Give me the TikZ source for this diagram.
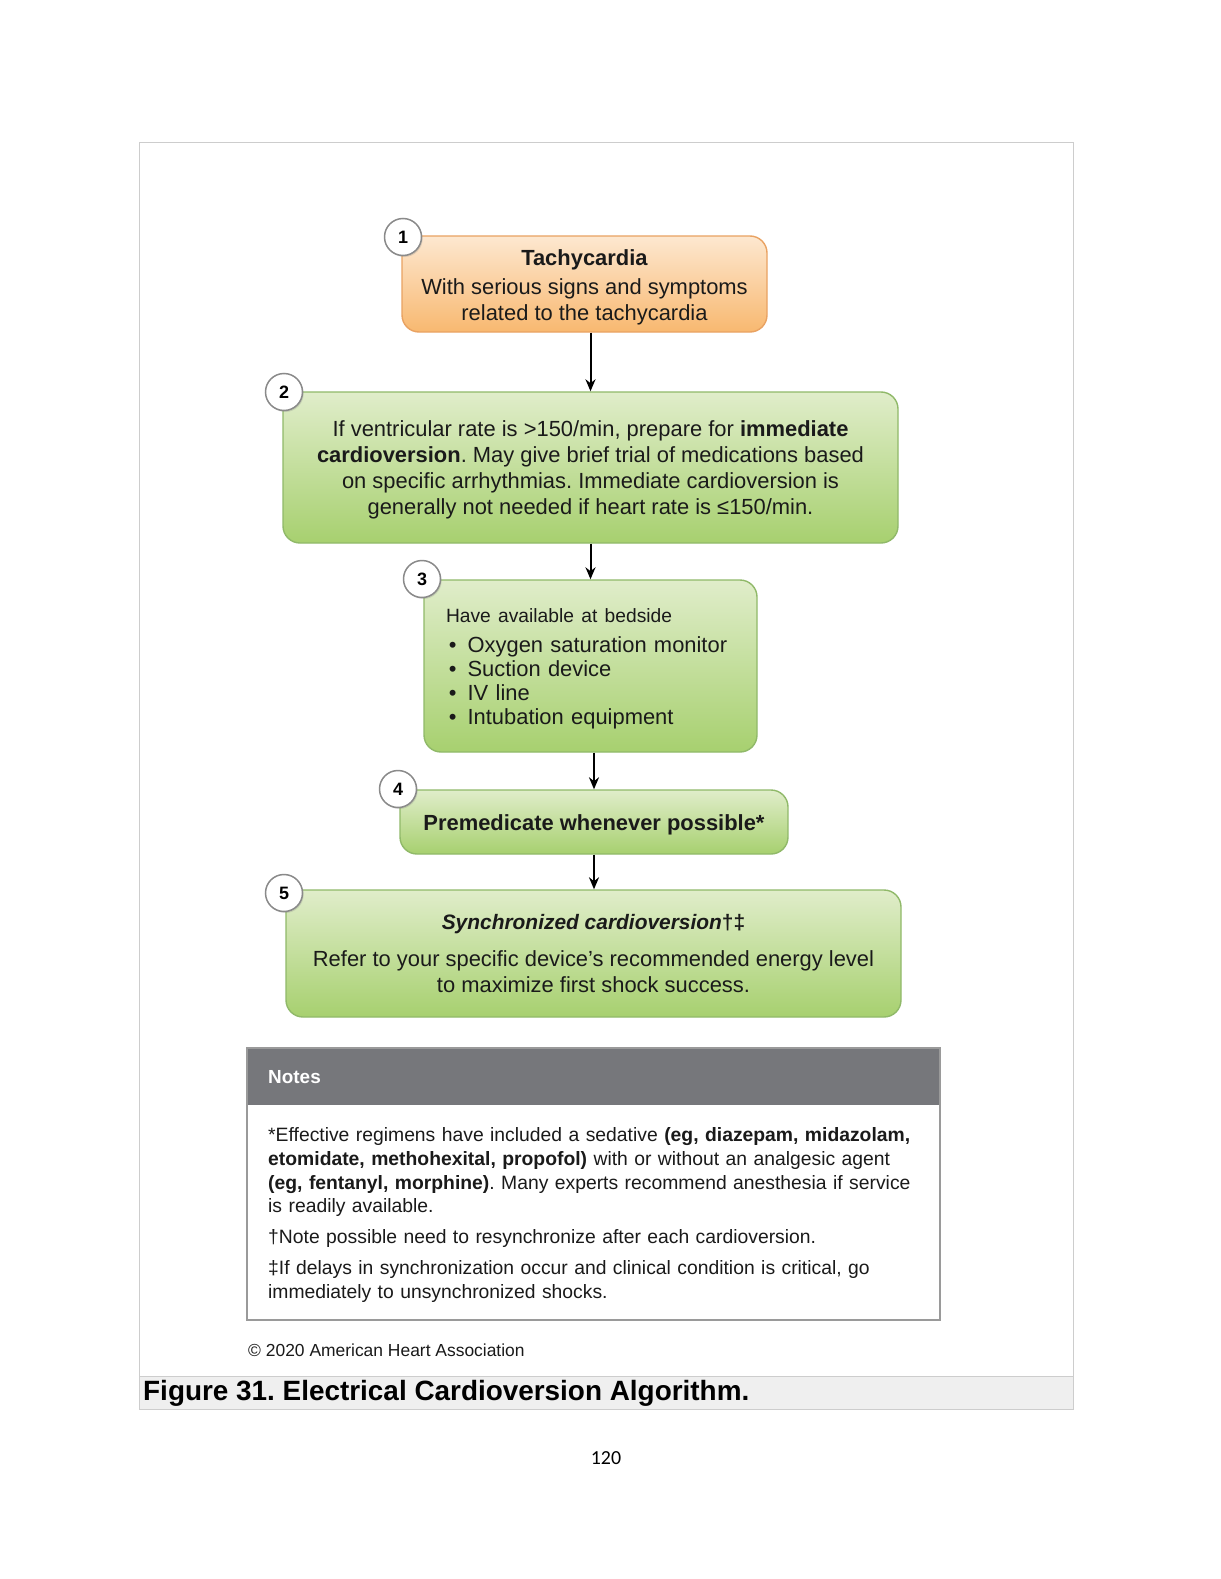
\documentclass[tikz,border=0pt]{standalone}
\usepackage{fontspec}
\setmainfont{Liberation Sans}
\newfontfamily\calibri{Carlito}
\usetikzlibrary{arrows.meta,shadows}
\frenchspacing
\definecolor{orTop}{HTML}{FDE8D0}
\definecolor{orBot}{HTML}{F8B870}
\definecolor{orEdge}{HTML}{E9A262}
\definecolor{grTop}{HTML}{E0EDCA}
\definecolor{grBot}{HTML}{A7D06F}
\definecolor{grEdge}{HTML}{90B969}
\definecolor{notehead}{HTML}{76777B}
\definecolor{noteedge}{HTML}{9A9A9A}
\definecolor{framegray}{HTML}{CDCDCD}
\definecolor{capfill}{HTML}{EFEFEF}
\definecolor{numedge}{HTML}{8A8A8A}
\definecolor{txt}{HTML}{1A1A1A}
\tikzset{
  greenbox/.style={draw=grEdge, line width=1.4bp, rounded corners=17bp,
    top color=grTop, bottom color=grBot, inner sep=0pt},
  orangebox/.style={greenbox, draw=orEdge, top color=orTop, bottom color=orBot},
  boxtext/.style={align=center, inner sep=0pt, text=txt,
    font=\frenchspacing\fontsize{22}{26}\selectfont},
  numcirc/.style={circle, draw=numedge, line width=1.5bp, fill=white,
    minimum size=37bp, inner sep=0pt, font=\bfseries\fontsize{18}{18}\selectfont,
    drop shadow={shadow xshift=1.2bp, shadow yshift=-1.5bp, opacity=0.25}},
  flowarrow/.style={line width=2bp, -{Stealth[length=12bp,width=10bp]}},
}
\begin{document}
\begin{tikzpicture}[x=1bp,y=-1bp]
\useasboundingbox (0,0) rectangle (1220,1579);
\fill[white] (0,0) rectangle (1220,1579);
% outer frame and caption band
\fill[capfill] (139,1376) rectangle (1073,1409);
\draw[framegray, line width=1bp] (139,143) rectangle (1073,1409);
\draw[framegray, line width=1bp] (139,1376) -- (1073,1376);
\node[anchor=west, inner sep=0pt, font=\bfseries\fontsize{28}{30}\selectfont] (cap) at (143,1393) {Figure 31. Electrical Cardioversion Algorithm.};
\node[inner sep=0pt, font=\calibri\fontsize{20}{22}\selectfont] (pg) at (606,1458) {120};

% flow boxes
\node[orangebox, minimum width=365bp, minimum height=96bp] (b1) at (584.5,284) {};
\node[boxtext] (t1) at ([yshift=-3bp]b1.center)
  {\textbf{Tachycardia}\\[3pt]With serious signs and symptoms\\related to the tachycardia};
\node[greenbox, minimum width=615bp, minimum height=151bp] (b2) at (590.5,467.5) {};
\node[boxtext] (t2) at ([yshift=-2.5bp]b2.center)
  {If ventricular rate is >150/min, prepare for \textbf{immediate}\\
   \textbf{cardioversion}. May give brief trial of medications based\\
   on specific arrhythmias. Immediate cardioversion is\\
   generally not needed if heart rate is ≤150/min.};
\node[greenbox, minimum width=333bp, minimum height=172bp] (b3) at (590.5,666) {};
\node[boxtext, align=left, text width=289bp, font=\frenchspacing\fontsize{22}{24}\selectfont]
  (t3) at ([yshift=-3bp]b3.center)
  {{\fontsize{19.3}{24}\selectfont Have available at bedside}\\[6pt]
   \hspace*{3pt}\textbullet\hspace{11pt}Oxygen saturation monitor\\
   \hspace*{3pt}\textbullet\hspace{11pt}Suction device\\
   \hspace*{3pt}\textbullet\hspace{11pt}IV line\\
   \hspace*{3pt}\textbullet\hspace{11pt}Intubation equipment};
\node[greenbox, minimum width=388bp, minimum height=64bp] (b4) at (594,822) {};
\node[boxtext] (t4) at ([yshift=-2.5bp]b4.center) {\textbf{Premedicate whenever possible*}};
\node[greenbox, minimum width=615bp, minimum height=127bp] (b5) at (593.5,953.5) {};
\node[boxtext] (t5) at (b5.center)
  {{\fontsize{21}{26}\selectfont\bfseries\itshape Synchronized cardioversion\upshape†‡}\\[11pt]
   Refer to your specific device’s recommended energy level\\
   to maximize first shock success.};

% number circles
\node[numcirc] (c1) at (403,237) {1};
\node[numcirc] (c2) at (284,392) {2};
\node[numcirc] (c3) at (422,579) {3};
\node[numcirc] (c4) at (398,789) {4};
\node[numcirc] (c5) at (284,893) {5};

% connectors
\draw[flowarrow] (b1.south -| b2.north) -- (b2.north);
\draw[flowarrow] (b2.south) -- (b3.north);
\draw[flowarrow] (b3.south -| b4.north) -- (b4.north);
\draw[flowarrow] (b4.south) -- (b4.south |- b5.north);

% notes
\fill[notehead] (247,1048) rectangle (940,1105);
\draw[noteedge, line width=2bp] (247,1048) rectangle (940,1320);
\node[anchor=west, inner sep=0pt, text=white, font=\bfseries\fontsize{19}{22}\selectfont] (nh) at (268,1077) {Notes};
\node[anchor=north west, inner sep=0pt, align=left, text width=660bp, text=txt,
      font=\frenchspacing\fontsize{19.4}{24}\selectfont] (nb) at (268,1127)
  {*Effective regimens have included a sedative \textbf{(eg, diazepam, midazolam,}\\
   \textbf{etomidate, methohexital, propofol)} with or without an analgesic agent\\
   \textbf{(eg, fentanyl, morphine)}. Many experts recommend anesthesia if service\\
   is readily available.\\[7pt]
   †Note possible need to resynchronize after each cardioversion.\\[7pt]
   ‡If delays in synchronization occur and clinical condition is critical, go\\
   immediately to unsynchronized shocks.};
\node[anchor=west, inner sep=0pt, text=txt, font=\fontsize{17.5}{20}\selectfont] (copy) at (248,1350) {© 2020 American Heart Association};
\end{tikzpicture}
\end{document}
